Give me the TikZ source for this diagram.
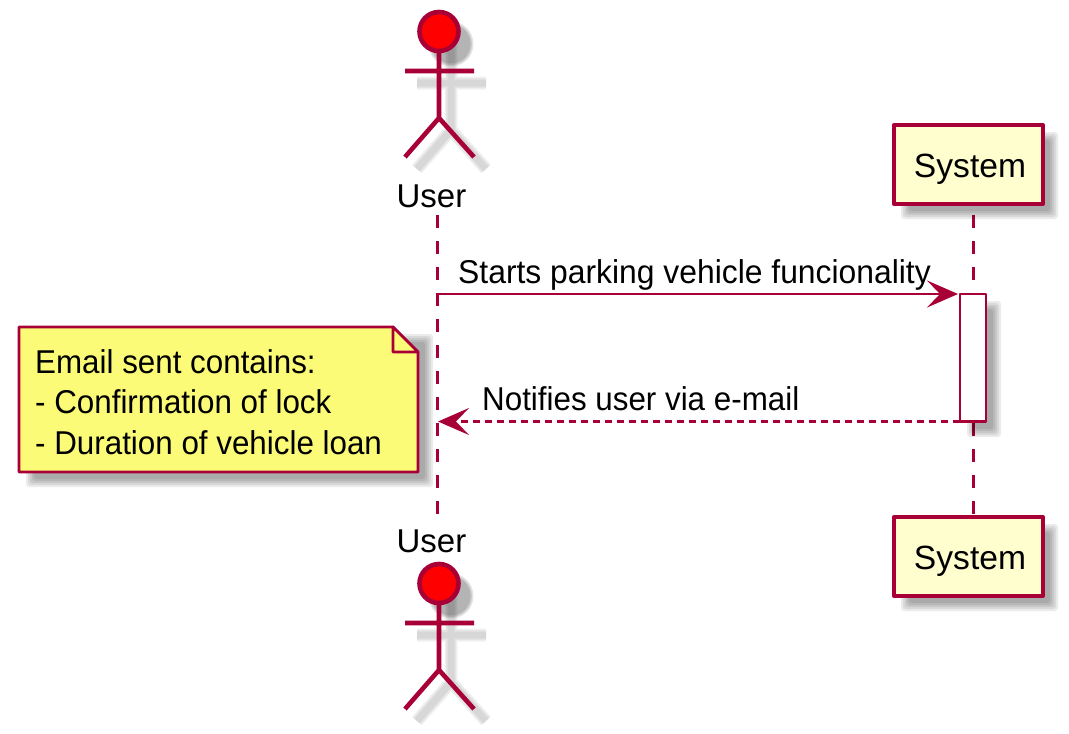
\documentclass[tikz,border=0pt]{standalone}
\usepackage{fontspec}
\setmainfont{Liberation Sans}
\newfontfamily\msgfont[FakeStretch=0.965]{Liberation Sans}
\newfontfamily\notefont[FakeStretch=0.95]{Liberation Sans}
\usetikzlibrary{calc,arrows.meta,positioning}
\definecolor{umlline}{HTML}{A80036}
\definecolor{umlbox}{HTML}{FEFECE}
\definecolor{umlnote}{HTML}{FBFB77}
\tikzset{
  label text/.style={inner sep=0pt, font=\fontsize{33}{40.5}\selectfont},
  message text/.style={inner sep=0pt, font=\msgfont\fontsize{33}{40.5}\selectfont},
  note text/.style={inner sep=0pt, font=\notefont\fontsize{33}{40.5}\selectfont},
  lifeline/.style={umlline, line width=3pt, dash pattern=on 13pt off 13pt},
  participant/.style={draw=umlline, fill=umlbox, line width=4pt, minimum width=149pt, minimum height=79pt, inner sep=0pt, text height=26.5pt, text depth=0pt, font=\fontsize{33.6}{40.5}\selectfont},
  message/.style={umlline, line width=2.8pt, -{Stealth[length=31pt,width=27pt,inset=13pt]}},
}
\newcommand{\softrect}[4]{%
  \foreach \k in {-4,-2,0,2,4}
    \fill[black, opacity=0.08, rounded corners=3pt] (#1+11-\k,#2+11-\k) rectangle (#3+11+\k,#4+11+\k);
}
\newcommand{\stickman}[2]{%
  \begin{scope}[yshift=-#2pt]
    \foreach \w in {13,10,7} {
      \draw[black, opacity=0.055, line width=\w pt] (451,43) -- (451,130) (417,83) -- (486,83) (417,169) -- (451,130) -- (486,169);
      \fill[black, opacity=0.11] (451,44) circle (16+\w/2);
    }
    \coordinate (#1neck) at (439,51);
    \coordinate (#1hip) at (439,118);
    \coordinate (#1arml) at (405,71);
    \coordinate (#1armr) at (474,71);
    \coordinate (#1legl) at (405,157);
    \coordinate (#1legr) at (474,157);
    \draw[umlline, line width=4.6pt] (#1neck) -- (#1hip) (#1arml) -- (#1armr) (#1legl) -- (#1hip) -- (#1legr);
    \node[circle, draw=umlline, fill=red, line width=4.6pt, minimum size=39pt, inner sep=0pt] (#1head) at (439,31.5) {};
  \end{scope}
}
\begin{document}
\begin{tikzpicture}[x=1pt, y=-1pt, >=stealth, line join=round]
  \useasboundingbox (0,0) rectangle (1069,734);
  \coordinate (usertop) at (437,215);
  \coordinate (userbot) at (437,520);
  \coordinate (systop) at (973,215);
  \coordinate (sysbot) at (973,516);
  \draw[lifeline] (usertop) -- (userbot);
  \draw[lifeline] (systop) -- (sysbot);

  \stickman{usera}{0}
  \stickman{userb}{552}
  \node[label text, anchor=base] (userup) at (431.5,207) {User};
  \node[label text, anchor=base] (userdown) at (431.5,552) {User};

  \softrect{894}{125}{1043}{204}
  \softrect{894}{517}{1043}{596}
  \node[participant] (sysup) at (968.5,164.5) {\hspace{3pt}System};
  \node[participant] (sysdown) at (968.5,556.5) {\hspace{3pt}System};

  \softrect{960}{294}{986}{422}
  \node[draw=umlline, fill=white, line width=2.8pt, outer sep=0pt, minimum width=26pt, minimum height=127.5pt, inner sep=0pt] (act) at (973,357.75) {};

  \coordinate (startfrom) at (438,294);
  \coordinate (notifyto) at (438,421.5);
  \draw[message] (startfrom) -- ([xshift=-2pt]act.north west);
  \draw[message, dash pattern=on 7pt off 5pt] (act.south west) -- (notifyto);
  \node[message text, anchor=base west] (startlabel) at (458,283) {Starts parking vehicle funcionality};
  \node[note text, anchor=base west] (notifylabel) at (482,410) {Notifies user via e-mail};

  \softrect{19}{327}{418}{472}
  \draw[umlline, fill=umlnote, line width=2.8pt] (19,327) -- (393,327) -- (418,352) -- (418,472) -- (19,472) -- cycle;
  \draw[umlline, fill=umlnote, line width=2.8pt] (393,327) -- (393,352) -- (418,352) -- cycle;
  \node[note text, anchor=west, align=left] (notetext) at (35,402) {Email sent contains:\\- Confirmation of lock\\- Duration of vehicle loan};
\end{tikzpicture}
\end{document}
